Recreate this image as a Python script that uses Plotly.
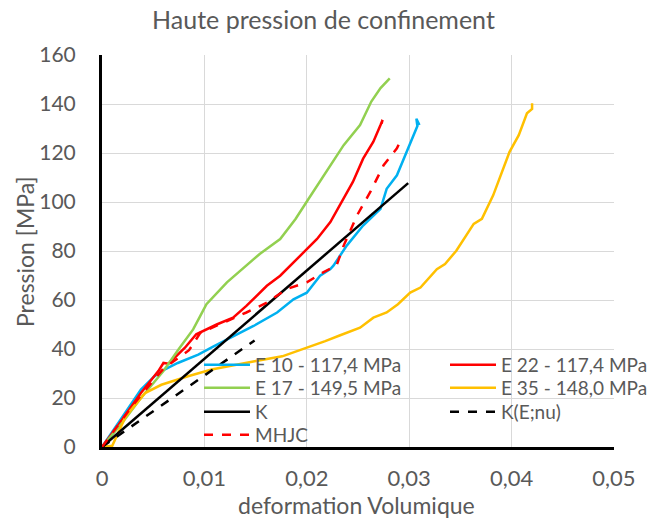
import plotly.graph_objects as go

# ---- data ----
e10_x = [0, 0.0016, 0.0029, 0.0038, 0.0051, 0.0061, 0.0074, 0.0094, 0.0109, 0.0128, 0.0148, 0.0171,
         0.0187, 0.0200, 0.0213, 0.0223, 0.0226, 0.0239, 0.0255, 0.0272, 0.0278, 0.0288, 0.0299, 0.0308, 0.0307, 0.0310]
e10_y = [0, 9.7, 17.9, 23.4, 28.8, 31.6, 34.3, 37.7, 41.1, 45.3, 49.4, 54.9,
         60.3, 63.0, 69.9, 72.6, 74.0, 82.2, 90.4, 97.2, 105.4, 110.9, 121.9, 131.0, 134.0, 131.4]

e22_x = [0, 0.0016, 0.0038, 0.0055, 0.0060, 0.0065, 0.0081, 0.0092, 0.0112, 0.0128, 0.0141, 0.0161,
         0.0174, 0.0187, 0.0198, 0.0210, 0.0223, 0.0236, 0.0245, 0.0255, 0.0265, 0.0272, 0.0274, 0.0273]
e22_y = [0, 9.0, 22.0, 31.0, 34.3, 34.0, 40.5, 46.0, 50.0, 52.8, 57.6, 65.8,
         69.9, 75.4, 80.1, 84.9, 91.8, 101.3, 108.2, 117.7, 124.6, 131.4, 133.5, 132.0]

e17_x = [0, 0.0020, 0.0038, 0.0060, 0.0075, 0.0089, 0.0096, 0.0102, 0.0122, 0.0141, 0.0154, 0.0174,
         0.0189, 0.0201, 0.0219, 0.0236, 0.0252, 0.0263, 0.0272, 0.0281]
e17_y = [0, 10.0, 20.0, 31.0, 40.0, 48.0, 53.5, 58.3, 67.2, 74.0, 78.8, 84.9,
         93.1, 100.8, 112.3, 123.2, 131.4, 141.0, 146.5, 150.5]

e35_x = [0, 0.0010, 0.0023, 0.0042, 0.0058, 0.0084, 0.0107, 0.0130, 0.0149, 0.0176, 0.0201, 0.0218,
         0.0232, 0.0252, 0.0265, 0.0278, 0.0289, 0.0301, 0.0311, 0.0327, 0.0335, 0.0346, 0.0363, 0.0371,
         0.0382, 0.0390, 0.0398, 0.0407, 0.0415, 0.0420, 0.0420]
e35_y = [0, 0.5, 12.4, 22.0, 25.4, 28.9, 31.6, 33.6, 35.0, 37.0, 40.5, 43.2,
         45.5, 48.7, 52.8, 54.9, 58.3, 63.0, 65.1, 72.6, 74.7, 80.1, 91.1, 93.1,
         102.7, 111.6, 120.5, 127.3, 136.2, 138.0, 140.3]

k_x = [0, 0.0299]
k_y = [0, 107.7]

kenu_x = [0, 0.0149]
kenu_y = [0, 43.5]

mhjc_x = [0, 0.0030, 0.0060, 0.0085, 0.0096, 0.0119, 0.0141, 0.0161, 0.0180, 0.0200, 0.0216, 0.0229,
          0.0236, 0.0249, 0.0262, 0.0275, 0.0288, 0.0291]
mhjc_y = [0, 17.0, 32.0, 39.5, 46.6, 50.8, 54.9, 58.9, 64.4, 67.2, 71.3, 74.0,
          82.2, 94.5, 104.1, 115.0, 121.9, 124.6]

names = ["E 10 - 117,4 MPa", "E 22 - 117,4 MPa", "E 17 - 149,5 MPa", "E 35 - 148,0 MPa",
         "K", "K(E;nu)", "MHJC"]

series = [
    (e10_x, e10_y, "#00B0F0", "solid"),
    (e22_x, e22_y, "#FF0000", "solid"),
    (e17_x, e17_y, "#92D050", "solid"),
    (e35_x, e35_y, "#FFC000", "solid"),
    (k_x, k_y, "#000000", "solid"),
    (kenu_x, kenu_y, "#000000", "dash"),
    (mhjc_x, mhjc_y, "#FF0000", "dash"),
]

FONT = "Lato"
GREY = "#595959"
W, H = 647, 519
L, R, T, B = 102, 33, 55, 72
PW, PH = W - L - R, H - T - B

# legend grid (2 columns, row-major like the reference)
col_px = [204, 450]
row_px = [365, 388, 412, 435]

def px2paper_x(px):
    return (px - L) / PW

def px2paper_y(py):
    return (H - B - py) / PH

fig = go.Figure()
layout_legends = {}
for i, (name, (xs, ys, col, dash)) in enumerate(zip(names, series)):
    lname = "legend" if i == 0 else f"legend{i + 1}"
    fig.add_trace(go.Scatter(x=xs, y=ys, mode="lines", name=name, legend=lname,
                             line=dict(color=col, width=2.5, dash=dash), hoverinfo="skip"))
    r, c = divmod(i, 2)
    layout_legends[lname] = dict(
        orientation="v", x=px2paper_x(col_px[c] - 5), xanchor="left",
        y=px2paper_y(row_px[r]), yanchor="middle", bgcolor="rgba(0,0,0,0)",
        font=dict(size=19, color=GREY, family=FONT), itemwidth=46, borderwidth=0,
    )

fig.update_layout(
    width=W, height=H,
    margin=dict(l=L, r=R, t=T, b=B, autoexpand=False),
    paper_bgcolor="white", plot_bgcolor="white",
    separators=", ",
    font=dict(family=FONT, color=GREY),
    title=dict(text="Haute pression de confinement", x=0.5, xanchor="center",
               y=1 - 20 / H, yanchor="middle", font=dict(size=25, color=GREY, family=FONT)),
    showlegend=True,
    **layout_legends,
    annotations=[
        dict(text="deformation Volumique", xref="paper", yref="paper",
             x=px2paper_x(356), y=px2paper_y(505), xanchor="center", yanchor="middle",
             showarrow=False, font=dict(size=23, color=GREY, family=FONT)),
        dict(text="Pression [MPa]", xref="paper", yref="paper", textangle=-90,
             x=px2paper_x(25), y=px2paper_y(252), xanchor="center", yanchor="middle",
             showarrow=False, font=dict(size=23, color=GREY, family=FONT)),
    ],
)
fig.update_xaxes(range=[0, 0.05], dtick=0.01, tick0=0, showgrid=True, gridcolor="#D9D9D9",
                 gridwidth=1, showline=True, linecolor="black", linewidth=3, zeroline=False,
                 ticks="", tickfont=dict(size=22, color=GREY), ticklabelstandoff=10,
                 automargin=False)
fig.update_yaxes(range=[0, 160], dtick=20, tick0=0, showgrid=True, gridcolor="#D9D9D9",
                 gridwidth=1, showline=True, linecolor="black", linewidth=3, zeroline=False,
                 ticks="", tickfont=dict(size=21, color=GREY), ticklabelstandoff=19,
                 automargin=False)

fig.write_html("out.html", config={"displayModeBar": False},
               post_script="document.body.style.margin='0';")
